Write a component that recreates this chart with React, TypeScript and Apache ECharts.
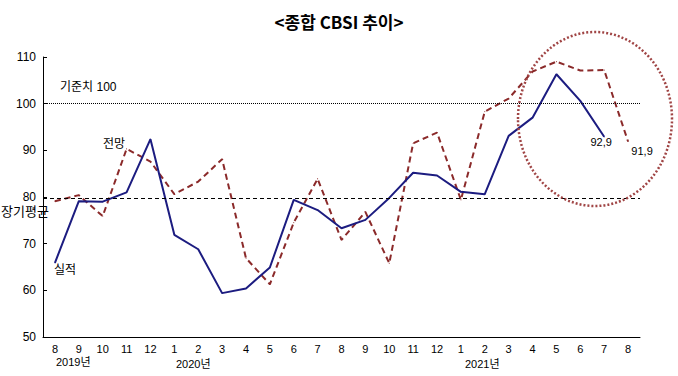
import React, { useEffect, useRef } from "react";
import * as echarts from "echarts";

const months = ["8","9","10","11","12","1","2","3","4","5","6","7","8","9","10","11","12","1","2","3","4","5","6","7","8"];
const actual: (number | null)[] = [65.9,79.1,79.0,81.0,92.4,71.9,68.8,59.4,60.4,64.9,79.4,77.2,73.3,75.1,79.8,85.2,84.6,81.1,80.6,93.1,97.0,106.3,100.6,92.9,null];
const forecast: number[] = [79.1,80.4,75.9,90.3,87.6,80.6,83.3,88.1,66.9,61.3,74.5,83.9,70.8,76.8,65.8,91.5,93.8,79.4,98.3,101.1,106.9,109.0,107.1,107.2,91.9];
const baseValue = 100;
const longAvg = 79.7;
const yearLabels = ["2019년", "2020년", "2021년"];

const FONT = "'Liberation Sans', 'Noto Sans CJK KR', sans-serif";
const RED = "#8b2a2a";
const NAVY = "#1c1c80";

export default function App() {
  const ref = useRef<HTMLDivElement>(null);
  useEffect(() => {
    const chart = echarts.init(ref.current!, undefined, { renderer: "svg" });
    const option: any = {
      animation: false,
      backgroundColor: "#ffffff",
      textStyle: { fontFamily: FONT },
      title: {
        text: "<종합 CBSI 추이>",
        left: "center",
        top: 8,
        textStyle: { fontFamily: "'Noto Sans CJK KR', serif", fontWeight: "bold", fontSize: 17, color: "#000" },
      },
      grid: { left: 43, right: 38, top: 57, bottom: 39 },
      xAxis: {
        type: "category",
        data: months,
        boundaryGap: true,
        axisLine: { lineStyle: { color: "#000", width: 1 } },
        axisTick: { inside: true, length: 4, lineStyle: { color: "#000" } },
        axisLabel: { color: "#000", fontSize: 11, margin: 6, fontFamily: FONT },
        splitLine: { show: false },
      },
      yAxis: {
        type: "value",
        min: 50,
        max: 110,
        interval: 10,
        axisLine: { show: true, lineStyle: { color: "#000", width: 1 } },
        axisTick: { show: true, inside: true, length: 4, lineStyle: { color: "#000" } },
        axisLabel: { color: "#000", fontSize: 12, margin: 7, fontFamily: FONT },
        splitLine: { show: false },
      },
      series: [
        {
          name: "전망",
          type: "line",
          data: forecast.map((v, i) =>
            i === forecast.length - 1
              ? { value: v, label: { show: true, formatter: "91,9", position: "bottom", offset: [14, -1], color: "#000", fontSize: 11 } }
              : v
          ),
          symbol: "circle",
          symbolSize: 1,
          showAllSymbol: true,
          itemStyle: { color: RED },
          lineStyle: { color: RED, width: 2, type: [6, 4] },
          z: 3,
          markLine: {
            silent: true,
            symbol: "none",
            label: { show: false },
            data: [
              { yAxis: baseValue, lineStyle: { color: "#000", width: 1, type: [1, 1] } },
              { yAxis: longAvg, lineStyle: { color: "#000", width: 1, type: [4, 3] } },
            ],
          },
        },
        {
          name: "실적",
          type: "line",
          data: actual.map((v, i) =>
            i === 23
              ? { value: v, label: { show: true, formatter: "92,9", position: "bottom", offset: [-3, -6], color: "#000", fontSize: 11 } }
              : v
          ),
          symbol: "circle",
          symbolSize: 1,
          showAllSymbol: true,
          itemStyle: { color: NAVY },
          connectNulls: false,
          lineStyle: { color: NAVY, width: 2 },
          z: 4,
        },
      ],
      graphic: [
        { type: "text", left: 60, top: 81, style: { text: "기준치 100", fontSize: 12, fill: "#000", fontFamily: FONT } },
        { type: "text", left: 103, top: 138, style: { text: "전망", fontSize: 12, fill: "#000", fontFamily: FONT } },
        { type: "text", left: 54, top: 264, style: { text: "실적", fontSize: 12, fill: "#000", fontFamily: FONT } },
        { type: "text", left: 1, top: 205, style: { text: "장기평균", fontSize: 13, fill: "#000", fontFamily: FONT } },
        { type: "text", left: 56, top: 356, style: { text: yearLabels[0], fontSize: 11, fill: "#000", fontFamily: FONT } },
        { type: "text", left: 176, top: 358, style: { text: yearLabels[1], fontSize: 11, fill: "#000", fontFamily: FONT } },
        { type: "text", left: 465, top: 358, style: { text: yearLabels[2], fontSize: 11, fill: "#000", fontFamily: FONT } },
        {
          type: "ellipse",
          shape: { cx: 595, cy: 119, rx: 77, ry: 87 },
          style: { fill: "none", stroke: "#a04545", lineWidth: 2.5, lineDash: [2, 2] },
          z: 10,
        },
      ],
    };
    chart.setOption(option);
    return () => chart.dispose();
  }, []);
  return <div ref={ref} style={{ width: 678, height: 376, position: "absolute", left: 0, top: 0 }} />;
}
